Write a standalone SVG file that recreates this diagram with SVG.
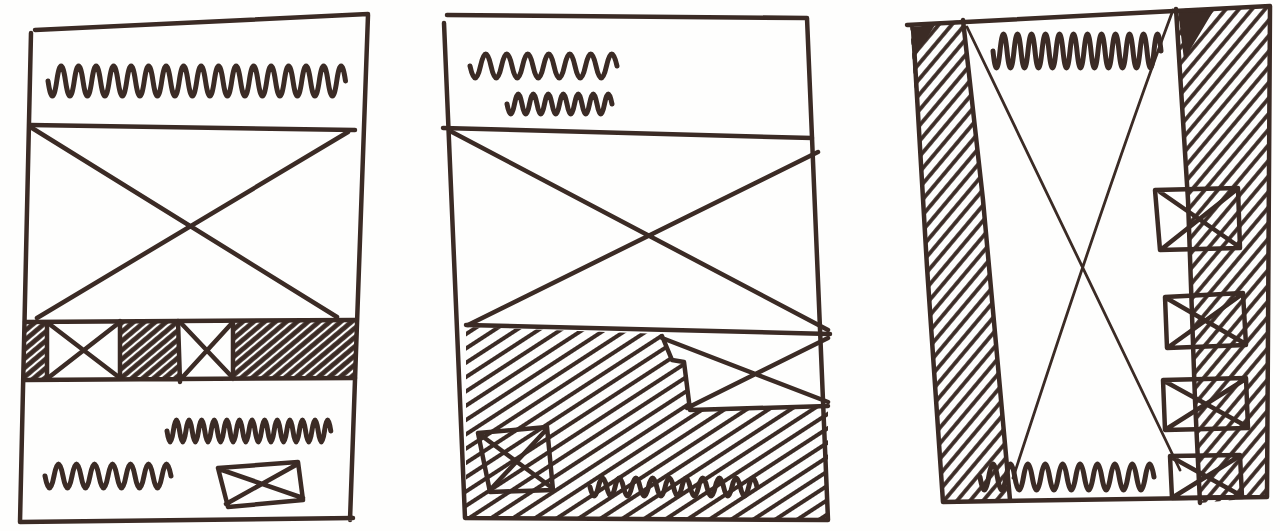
<svg xmlns="http://www.w3.org/2000/svg" width="1280" height="531" viewBox="0 0 1280 531">
<defs>
<style>
.ink{fill:none;stroke:#3b2b25;stroke-width:4.5;stroke-linecap:round;stroke-linejoin:round}
.thin{fill:none;stroke:#3b2b25;stroke-width:2.8;stroke-linecap:round;stroke-linejoin:round}
.sq{fill:none;stroke:#3b2b25;stroke-width:5;stroke-linecap:round;stroke-linejoin:round}
</style>
<pattern id="hatchA" width="7" height="7" patternUnits="userSpaceOnUse" patternTransform="rotate(-40)"><line x1="0" y1="3.5" x2="7" y2="3.5" stroke="#3b2b25" stroke-width="4.8"/></pattern>
<pattern id="hatchB" width="12" height="12" patternUnits="userSpaceOnUse" patternTransform="rotate(-33)"><line x1="0" y1="6" x2="12" y2="6" stroke="#3b2b25" stroke-width="4"/></pattern>
<pattern id="hatchC" width="10" height="10" patternUnits="userSpaceOnUse" patternTransform="rotate(-50)"><line x1="0" y1="5" x2="10" y2="5" stroke="#3b2b25" stroke-width="3.8"/></pattern>
</defs>
<rect width="1280" height="531" fill="#fefefd"/>

<g id="sketch-1">
<path fill="url(#hatchA)" d="M25,322 L47,322 L47,379 L25,380 Z M120,321 L178,321 L178,379 L120,379 Z M233,321 L355,320 L355,378 L233,379 Z"/>
<path class="ink" d="M35,30 L368,14 M31,33 L20,522 L353,518 M368,15 L350,520"/>
<path class="ink" d="M30,125 L355,130"/>
<path class="ink" d="M32,128 L337,317 M348,132 L37,318"/>
<path class="ink" d="M25,322 L355,320 M25,380 L355,378 M47,322 L47,379 M120,321 L120,379 M178,321 L180,382 M233,321 L233,379"/>
<path class="ink" d="M48,323 L120,378 M120,322 L48,378 M180,322 L233,378 M233,322 L180,380"/>
<path class="sq" d="M48,81 q4.4,30 8.75,0 t8.75,0 t8.75,0 t8.75,0 t8.75,0 t8.75,0 t8.75,0 t8.75,0 t8.75,0 t8.75,0 t8.75,0 t8.75,0 t8.75,0 t8.75,0 t8.75,0 t8.75,0 t8.75,0 t8.75,0 t8.75,0 t8.75,0 t8.75,0 t8.75,0 t8.75,0 t8.75,0 t8.75,0 t8.75,0 t8.75,0 t8.75,0 t8.75,0 t8.75,0 t8.75,0 t8.75,0 t8.75,0 t8.75,0"/>
<path class="sq" d="M167,431 q3.15,22 6.3,0 t6.3,0 t6.3,0 t6.3,0 t6.3,0 t6.3,0 t6.3,0 t6.3,0 t6.3,0 t6.3,0 t6.3,0 t6.3,0 t6.3,0 t6.3,0 t6.3,0 t6.3,0 t6.3,0 t6.3,0 t6.3,0 t6.3,0 t6.3,0 t6.3,0 t6.3,0 t6.3,0 t6.3,0 t6.3,0"/>
<path class="sq" d="M45,476 q4.5,24 9,0 t9,0 t9,0 t9,0 t9,0 t9,0 t9,0 t9,0 t9,0 t9,0 t9,0 t9,0 t9,0 t9,0"/>
<path class="ink" d="M218,468 L298,462 L303,500 L228,507 Z M222,470 L303,498 M296,465 L226,504"/>
</g>

<g id="sketch-2">
<path fill="url(#hatchB)" d="M466,327 L662,334 L672,360 L684,362 L690,409 L828,405 L828,518 L466,518 Z"/>
<path class="ink" d="M447,15 L807,18 M444,23 L465,518 L828,520 M807,18 L828,520"/>
<path class="ink" d="M443,128 L812,138"/>
<path class="ink" d="M452,132 L828,330 M818,152 L468,325"/>
<path class="ink" d="M466,325 L830,334"/>
<path class="ink" d="M662,338 L828,402 M687,408 L828,338 M662,336 L672,360 L684,362 L690,410 L828,406"/>
<path class="ink" d="M478,433 L547,427 L553,490 L490,492 Z M482,436 L551,487 M546,430 L490,490"/>
<path class="sq" d="M470,66 q5.25,24 10.5,0 t10.5,0 t10.5,0 t10.5,0 t10.5,0 t10.5,0 t10.5,0 t10.5,0 t10.5,0 t10.5,0 t10.5,0 t10.5,0 t10.5,0 t10.5,0"/>
<path class="sq" d="M507,104 q3.75,20 7.5,0 t7.5,0 t7.5,0 t7.5,0 t7.5,0 t7.5,0 t7.5,0 t7.5,0 t7.5,0 t7.5,0 t7.5,0 t7.5,0 t7.5,0 t7.5,0"/>
<path class="sq" d="M590,487 q4.2,18 8.35,0 t8.35,0 t8.35,0 t8.35,0 t8.35,0 t8.35,0 t8.35,0 t8.35,0 t8.35,0 t8.35,0 t8.35,0 t8.35,0 t8.35,0 t8.35,0 t8.35,0 t8.35,0 t8.35,0 t8.35,0 t8.35,0 t8.35,0"/>
</g>

<g id="sketch-3">
<path fill="url(#hatchC)" d="M910,25 L963,20 L983,200 L995,333 L1010,500 L943,502 L927,267 Z"/>
<path fill="url(#hatchC)" d="M1176,9 L1270,6 L1267,497 L1200,503 L1195,400 L1188,200 Z"/>
<path fill="#3b2b25" d="M1178,10 L1215,8 L1184,60 Z M912,27 L935,25 L916,55 Z"/>
<path class="ink" d="M907,25 L1270,6 M913,28 L927,267 L943,502 L1267,497 M1270,6 L1267,497"/>
<path class="ink" d="M963,20 L983,200 L995,333 L1010,500 M1176,9 L1188,200 L1195,400 L1200,503"/>
<path class="thin" d="M967,27 L1180,470 M1173,10 Q1110,180 1013,478"/>
<path class="sq" d="M993,51 q3.5,34 7,0 t7,0 t7,0 t7,0 t7,0 t7,0 t7,0 t7,0 t7,0 t7,0 t7,0 t7,0 t7,0 t7,0 t7,0 t7,0 t7,0 t7,0 t7,0 t7,0 t7,0 t7,0 t7,0 t7,0"/>
<path class="sq" d="M980,477 q4.35,26 8.7,0 t8.7,0 t8.7,0 t8.7,0 t8.7,0 t8.7,0 t8.7,0 t8.7,0 t8.7,0 t8.7,0 t8.7,0 t8.7,0 t8.7,0 t8.7,0 t8.7,0 t8.7,0 t8.7,0 t8.7,0 t8.7,0 t8.7,0"/>
<path class="ink" d="M1155,190 L1238,188 L1240,248 L1160,250 Z M1160,192 L1238,246 M1236,190 L1163,248"/>
<path class="ink" d="M1165,297 L1243,293 L1246,345 L1167,348 Z M1168,299 L1244,343 M1241,295 L1170,346"/>
<path class="ink" d="M1163,380 L1246,378 L1248,428 L1165,430 Z M1166,382 L1246,426 M1244,380 L1168,428"/>
<path class="ink" d="M1170,456 L1240,455 L1242,497 L1172,498 Z M1173,458 L1240,495 M1238,457 L1175,496"/>
</g>
</svg>
